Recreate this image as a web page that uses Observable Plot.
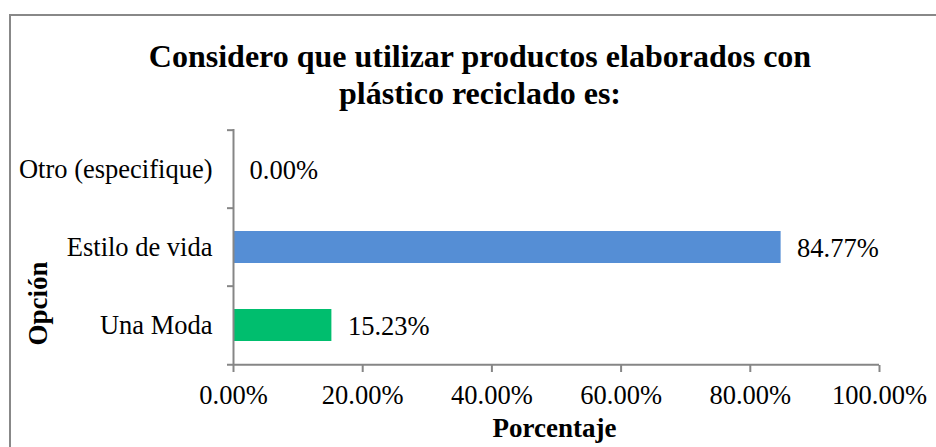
<!DOCTYPE html>
<html><head><meta charset="utf-8">
<script src="https://cdn.jsdelivr.net/npm/d3@7"></script>
<script src="https://cdn.jsdelivr.net/npm/@observablehq/plot@0.6"></script>
<style>
body{margin:0;background:#fff;}
#wrap{position:relative;width:936px;height:447px;overflow:hidden;font-family:"Liberation Serif","Times New Roman",serif;}
#frame{position:absolute;left:9px;top:14px;width:1000px;height:500px;border:2px solid #888;box-sizing:border-box;}
#title{position:absolute;left:0;width:960px;top:38px;text-align:center;font-weight:bold;font-size:32px;line-height:37px;color:#000;}
#chart{position:absolute;left:0;top:115px;}
</style></head><body>
<div id="wrap"><div id="frame"></div><div id="title">Considero que utilizar productos elaborados con<br>plástico reciclado es:</div><div id="chart"></div></div>
<script>
const categories = ["Otro (especifique)", "Estilo de vida", "Una Moda"];
const values = [0.0, 0.8477, 0.1523];
const colors = ["#558ED5", "#558ED5", "#00BE6E"];
const xTicks = [0, 0.2, 0.4, 0.6, 0.8, 1.0];
const yLabel = "Opción";
const xLabel = "Porcentaje";

const data = categories.map((c, i) => ({cat: c, value: values[i]}));
const fmt = d3.format(".2%");
const gray = "#868686";
const H = 332, mt = 14, mb = 82;
const step = (H - mt - mb) / categories.length;
const fs = 26.5;

const chart = Plot.plot({
  width: 936,
  height: H,
  marginTop: mt,
  marginBottom: mb,
  marginLeft: 233,
  marginRight: 57,
  style: {fontFamily: '"Liberation Serif","Times New Roman",serif', fontSize: fs + "px", color: "#000", background: "transparent"},
  x: {domain: [0, 1]},
  y: {domain: categories, padding: 0},
  color: {domain: categories, range: colors},
  marks: [
    Plot.barX(data, {x: "value", y: "cat", fill: "cat", insetTop: 23, insetBottom: 23}),
    Plot.ruleX([0], {stroke: gray, strokeWidth: 2}),
    Plot.ruleY(categories, {y: d => d, x1: -0.0093, x2: 0, dy: -step / 2, stroke: gray, strokeWidth: 2}),
    Plot.ruleY([categories[categories.length - 1]], {y: d => d, x1: -0.0093, x2: 1, dy: step / 2, stroke: gray, strokeWidth: 2}),
    Plot.axisX({ticks: xTicks, tickFormat: fmt, tickSize: 7, tickPadding: 13, fontSize: fs, stroke: gray, strokeWidth: 2, fill: "#000", label: null}),
    Plot.axisY({tickSize: 0, tickPadding: 21, fontSize: fs, fill: "#000", label: null}),
    Plot.text(data, {x: "value", y: "cat", text: d => fmt(d.value), dx: 16, dy: 1, textAnchor: "start", fontSize: fs, fill: "#000"}),
    Plot.text([yLabel], {text: d => d, frameAnchor: "left", textAnchor: "middle", lineAnchor: "middle", dx: -195, dy: 56, rotate: -90, fontSize: 27, fontWeight: "bold", fill: "#000"}),
    Plot.text([xLabel], {text: d => d, frameAnchor: "bottom", textAnchor: "middle", lineAnchor: "middle", dx: -2, dy: 63, fontSize: 27, fontWeight: "bold", fill: "#000"})
  ]
});
document.getElementById("chart").appendChild(chart);
</script>
</body></html>
